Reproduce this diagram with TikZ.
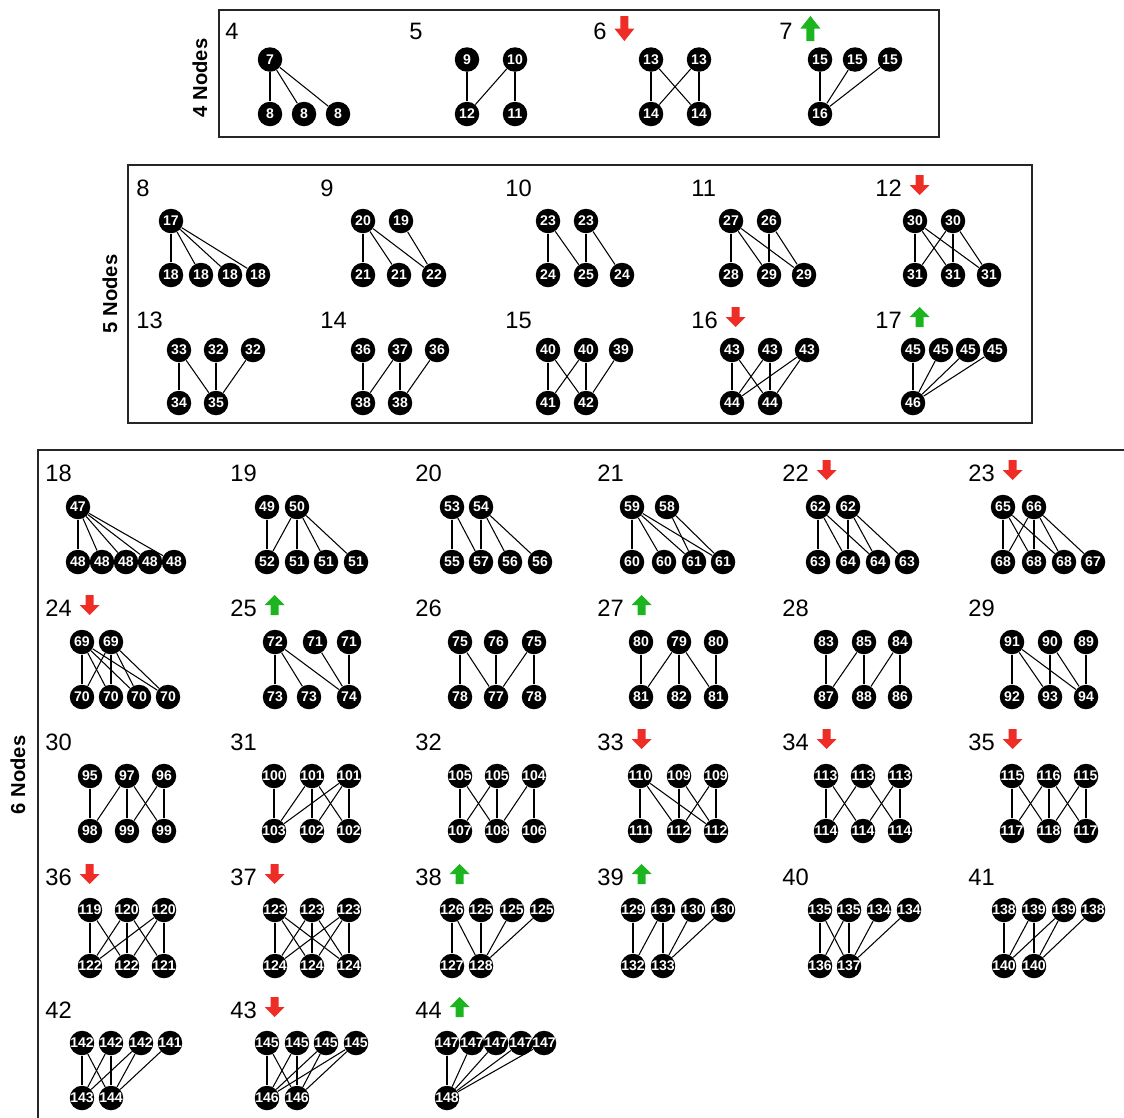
\documentclass[tikz,border=0pt]{standalone}
\usepackage{fontspec}
\setmainfont{Liberation Sans}
\definecolor{trend-red}{HTML}{EE2D27}
\definecolor{trend-green}{HTML}{1DB51F}

\tikzset{
  vtx/.style={circle, fill=black, text=white, inner sep=0pt,
              minimum size=0.49cm, font=\fontsize{8}{8}\selectfont\bfseries},
  motif edge/.style={line width=0.6pt},
  motif label/.style={anchor=west, inner sep=0pt, font=\fontsize{13.5}{14}\selectfont},
  size label/.style={rotate=90, inner sep=0pt, font=\fontsize{11.5}{12}\selectfont\bfseries},
  panel/.style={draw=black!85, line width=0.7pt},
  decr/.pic={\fill[trend-red] (-4,-10) -- (4,-10) -- (4,0) -- (10,0) -- (0,10) -- (-10,0) -- (-4,0) -- cycle;},
  incr/.pic={\fill[trend-green] (-4,10) -- (4,10) -- (4,0) -- (10,0) -- (0,-10) -- (-10,0) -- (-4,0) -- cycle;},
  steady/.pic={},
}

% #1 motif id, #2/#3 label left x / centre y, #4/#5 top / bottom row y,
% #6 top nodes x/text, #7 bottom nodes x/text, #8 edges top/bottom, #9 trend pic
\newcommand{\motif}[9]{%
  \node[motif label] (m#1) at (#2,#3) {#1};
  \foreach \x/\lbl [count=\i] in {#6} \node[vtx] (m#1t\i) at (\x,#4) {\makebox[0pt]{\lbl}};
  \foreach \x/\lbl [count=\i] in {#7} \node[vtx] (m#1b\i) at (\x,#5) {\makebox[0pt]{\lbl}};
  \foreach \a/\b in {#8} \draw[motif edge] (m#1t\a) -- (m#1b\b);
  \pic at ([xshift=0.35cm,yshift=0.06cm]m#1.east) {#9};
}

\begin{document}
\begin{tikzpicture}[x=0.02cm, y=-0.02cm]
  \useasboundingbox (0,0) rectangle (1124,1117);

  % panels
  \draw[panel] (219,10) rectangle (939,137);
  \draw[panel] (128,165) rectangle (1032,423);
  \draw[panel] (1140,450) -- (38,450) -- (38,1130);
  \node[size label] (n4) at (200,78) {4 Nodes};
  \node[size label] (n5) at (110,294) {5 Nodes};
  \node[size label] (n6) at (18,775) {6 Nodes};

  % 4 nodes
  \begin{scope}[every pic/.style={yscale=1.25}]
    \motif{4}{225}{31.5}{59.5}{114}{270/7}{270/8,304/8,338/8}{1/1,1/2,1/3}{steady}
    \motif{5}{409}{31.5}{59.5}{114}{467/9,515/10}{467/12,515/11}{1/1,2/1,2/2}{steady}
    \motif{6}{593}{31.5}{59.5}{114}{651/13,699/13}{651/14,699/14}{1/1,1/2,2/1,2/2}{decr}
    \motif{7}{779}{31.5}{59.5}{114}{820/15,855/15,890/15}{820/16}{1/1,2/1,3/1}{incr}
  \end{scope}

  % 5 nodes
  \motif{8}{136}{188}{221}{275}{171/17}{171/18,201/18,230/18,258/18}{1/1,1/2,1/3,1/4}{steady}
  \motif{9}{320}{188}{221}{275}{363/20,401/19}{363/21,399/21,434/22}{1/1,1/2,1/3,2/3}{steady}
  \motif{10}{505}{188}{221}{275}{548/23,586/23}{548/24,586/25,622/24}{1/1,1/2,2/2,2/3}{steady}
  \motif{11}{691}{188}{221}{275}{731/27,769/26}{731/28,769/29,804/29}{1/1,1/2,1/3,2/2,2/3}{steady}
  \motif{12}{875}{188}{221}{275}{915/30,953/30}{915/31,953/31,989/31}{1/1,1/2,1/3,2/1,2/2,2/3}{decr}
  \motif{13}{136}{320}{350}{403}{179/33,216/32,253/32}{179/34,216/35}{1/1,1/2,2/2,3/2}{steady}
  \motif{14}{320}{320}{350}{403}{363/36,400/37,437/36}{363/38,400/38}{1/1,2/1,2/2,3/2}{steady}
  \motif{15}{505}{320}{350}{403}{548/40,586/40,621/39}{548/41,586/42}{1/1,1/2,2/1,2/2,3/2}{steady}
  \motif{16}{691}{320}{350}{403}{732/43,770/43,807/43}{732/44,770/44}{1/1,1/2,2/1,2/2,3/1,3/2}{decr}
  \motif{17}{875}{320}{350}{403}{913/45,941/45,968/45,995/45}{913/46}{1/1,2/1,3/1,4/1}{incr}

  % 6 nodes
  \motif{18}{45}{473}{507}{562}{78/47}{78/48,102/48,126/48,150/48,174/48}{1/1,1/2,1/3,1/4,1/5}{steady}
  \motif{19}{230}{473}{507}{562}{267/49,297/50}{267/52,297/51,326/51,356/51}{1/1,2/1,2/2,2/3,2/4}{steady}
  \motif{20}{415}{473}{507}{562}{452/53,481/54}{452/55,481/57,510/56,540/56}{1/1,1/2,2/2,2/3,2/4}{steady}
  \motif{21}{597}{473}{507}{562}{632/59,667/58}{632/60,664/60,694/61,723/61}{1/1,1/2,1/3,1/4,2/3,2/4}{steady}
  \motif{22}{782}{473}{507}{562}{818/62,848/62}{818/63,848/64,878/64,907/63}{1/1,1/2,1/3,2/2,2/3,2/4}{decr}
  \motif{23}{968}{473}{507}{562}{1003/65,1034/66}{1003/68,1034/68,1064/68,1093/67}{1/1,1/2,1/3,2/1,2/2,2/3,2/4}{decr}

  \motif{24}{45}{608}{642}{697}{82/69,111/69}{82/70,111/70,139/70,168/70}{1/1,1/2,1/3,1/4,2/1,2/2,2/3,2/4}{decr}
  \motif{25}{230}{608}{642}{697}{275/72,315/71,349/71}{275/73,309/73,349/74}{1/1,1/2,1/3,2/3,3/3}{incr}
  \motif{26}{415}{608}{642}{697}{460/75,496/76,534/75}{460/78,496/77,534/78}{1/1,1/2,2/2,3/2,3/3}{steady}
  \motif{27}{597}{608}{642}{697}{641/80,679/79,716/80}{641/81,679/82,716/81}{1/1,2/1,2/2,2/3,3/3}{incr}
  \motif{28}{782}{608}{642}{697}{826/83,864/85,900/84}{826/87,864/88,900/86}{1/1,2/1,2/2,3/2,3/3}{steady}
  \motif{29}{968}{608}{642}{697}{1012/91,1050/90,1086/89}{1012/92,1050/93,1086/94}{1/1,1/2,1/3,2/2,2/3,3/3}{steady}

  \motif{30}{45}{742}{776}{831}{90/95,127/97,164/96}{90/98,127/99,164/99}{1/1,2/1,2/2,2/3,3/2,3/3}{steady}
  \motif{31}{230}{742}{776}{831}{274/100,312/101,349/101}{274/103,312/102,349/102}{1/1,2/1,2/2,2/3,3/1,3/2,3/3}{steady}
  \motif{32}{415}{742}{776}{831}{460/105,497/105,534/104}{460/107,497/108,534/106}{1/1,1/2,2/1,2/2,3/2,3/3}{steady}
  \motif{33}{597}{742}{776}{831}{640/110,679/109,716/109}{640/111,679/112,716/112}{1/1,1/2,1/3,2/2,2/3,3/2,3/3}{decr}
  \motif{34}{782}{742}{776}{831}{826/113,863/113,900/113}{826/114,863/114,900/114}{1/1,1/2,2/1,2/3,3/2,3/3}{decr}
  \motif{35}{968}{742}{776}{831}{1012/115,1049/116,1086/115}{1012/117,1049/118,1086/117}{1/1,1/2,2/1,2/2,2/3,3/2,3/3}{decr}

  \motif{36}{45}{877}{910}{966}{90/119,127/120,164/120}{90/122,127/122,164/121}{1/1,1/2,2/1,2/2,2/3,3/1,3/2,3/3}{decr}
  \motif{37}{230}{877}{910}{966}{275/123,312/123,349/123}{275/124,312/124,349/124}{1/1,1/2,1/3,2/1,2/2,2/3,3/1,3/2,3/3}{decr}
  \motif{38}{415}{877}{910}{966}{452/126,481/125,512/125,542/125}{452/127,481/128}{1/1,1/2,2/2,3/2,4/2}{incr}
  \motif{39}{597}{877}{910}{966}{633/129,663/131,693/130,723/130}{633/132,663/133}{1/1,2/1,2/2,3/2,4/2}{incr}
  \motif{40}{782}{877}{910}{966}{820/135,849/135,879/134,909/134}{820/136,849/137}{1/1,1/2,2/1,2/2,3/2,4/2}{steady}
  \motif{41}{968}{877}{910}{966}{1004/138,1034/139,1064/139,1093/138}{1004/140,1034/140}{1/1,2/1,2/2,3/1,3/2,4/2}{steady}

  \motif{42}{45}{1010}{1043}{1098}{82/142,111/142,141/142,170/141}{82/143,111/144}{1/1,1/2,2/1,2/2,3/1,3/2,4/2}{steady}
  \motif{43}{230}{1010}{1043}{1098}{267/145,297/145,326/145,356/145}{267/146,297/146}{1/1,1/2,2/1,2/2,3/1,3/2,4/1,4/2}{decr}
  \motif{44}{415}{1010}{1043}{1098}{447/147,472/147,496/147,521/147,544/147}{447/148}{1/1,2/1,3/1,4/1,5/1}{incr}
\end{tikzpicture}
\end{document}
